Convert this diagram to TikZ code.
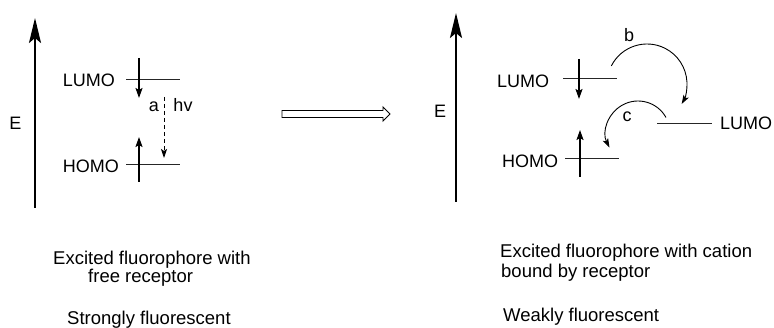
\documentclass[tikz,border=0pt]{standalone}
\usepackage{fontspec}
\setmainfont{Liberation Sans}
\usetikzlibrary{arrows.meta,calc}
\begin{document}
\begin{tikzpicture}[x=1pt,y=1pt,
  lbl/.style={inner sep=0pt,font=\fontsize{18}{21}\selectfont},
  txt/.style={inner sep=0pt,anchor=base west,font=\fontsize{18.5}{22}\selectfont},
  axis/.style={line width=2.2pt,-{Stealth[length=25pt,width=12pt,inset=5pt]}},
  level/.style={line width=1pt,draw=black!85},
  electron/.style={line width=1.8pt,-{Stealth[length=10pt,width=7pt,inset=2pt]}},
  curved/.style={line width=0.9pt,-{Stealth[length=9pt,width=6pt,inset=2pt]}}
]
\useasboundingbox (0,0) rectangle (774,-328);

% ---------- left panel ----------
\coordinate (LaxB) at (35,-208);
\coordinate (LaxT) at (35,-18);
\draw[axis] (LaxB) -- (LaxT);
\node[lbl,anchor=base] (LE) at (15.5,-130) {E};

\node[lbl,anchor=base east] (LL) at (115,-87) {LUMO};
\node[lbl,anchor=base east] (LH) at (119,-173) {HOMO};
\coordinate (LLa) at (126,-80); \coordinate (LLb) at (180,-80);
\coordinate (LHa) at (126,-165); \coordinate (LHb) at (180,-165);
\draw[level] (LLa) -- (LLb);
\draw[level] (LHa) -- (LHb);

\coordinate (Ld1) at (139,-58); \coordinate (Ld2) at (139,-98);
\draw[electron] (Ld1) -- (Ld2);
\coordinate (Lu1) at (139,-182); \coordinate (Lu2) at (139,-137);
\draw[electron] (Lu1) -- (Lu2);

\coordinate (Lh1) at (164,-97); \coordinate (Lh2) at (164,-158);
\draw[line width=0.9pt,dashed,dash pattern=on 4pt off 3pt,-{Stealth[length=9pt,width=6pt,inset=2pt]}] (Lh1) -- (Lh2);
\node[lbl,anchor=base] (La) at (154,-112) {a};
\node[lbl,anchor=base] (Lhv) at (183,-112) {hv};

% ---------- open arrow ----------
\draw[line width=0.9pt,fill=white] (282,-110.5) -- (383,-110.5) -- (383,-107) -- (390,-114)
  -- (383,-121) -- (383,-117.5) -- (282,-117.5) -- cycle;

% ---------- right panel ----------
\coordinate (RaxB) at (456,-202);
\coordinate (RaxT) at (456,-13);
\draw[axis] (RaxB) -- (RaxT);
\node[lbl,anchor=base] (RE) at (440,-118) {E};

\node[lbl,anchor=base west] (RL) at (497,-88) {LUMO};
\node[lbl,anchor=base west] (RH) at (502,-168) {HOMO};
\node[lbl,anchor=base west] (RR) at (720,-130) {LUMO};
\coordinate (RLa) at (563,-79); \coordinate (RLb) at (617,-79);
\coordinate (RHa) at (565,-159); \coordinate (RHb) at (619,-159);
\coordinate (RRa) at (657,-124); \coordinate (RRb) at (712,-124);
\draw[level] (RLa) -- (RLb);
\draw[level] (RHa) -- (RHb);
\draw[level] (RRa) -- (RRb);

\coordinate (Rd1) at (579,-59); \coordinate (Rd2) at (579,-99);
\draw[electron] (Rd1) -- (Rd2);
\coordinate (Ru1) at (580,-177); \coordinate (Ru2) at (580,-130);
\draw[electron] (Ru1) -- (Ru2);

% curved arrow b
\coordinate (bS) at ($(647,-84)+(153:40pt)$);
\draw[curved] (bS) arc[start angle=153,end angle=-30,radius=40pt];
\node[lbl,anchor=base] (lb) at (629,-42) {b};
% curved arrow c
\coordinate (cS) at ($(638,-133)+(29:32pt)$);
\draw[curved] (cS) arc[start angle=29,end angle=207,radius=32pt];
\node[lbl,anchor=base] (lc) at (627,-122) {c};

% ---------- captions ----------
\node[txt] (t1) at (53,-265) {Excited fluorophore with};
\node[txt] (t2) at (88,-283) {free receptor};
\node[txt] (t3) at (67,-325) {Strongly fluorescent};
\node[txt] (t4) at (500,-258) {Excited fluorophore with cation};
\node[txt] (t5) at (501,-278) {bound by receptor};
\node[txt] (t6) at (503,-322) {Weakly fluorescent};
\end{tikzpicture}
\end{document}
